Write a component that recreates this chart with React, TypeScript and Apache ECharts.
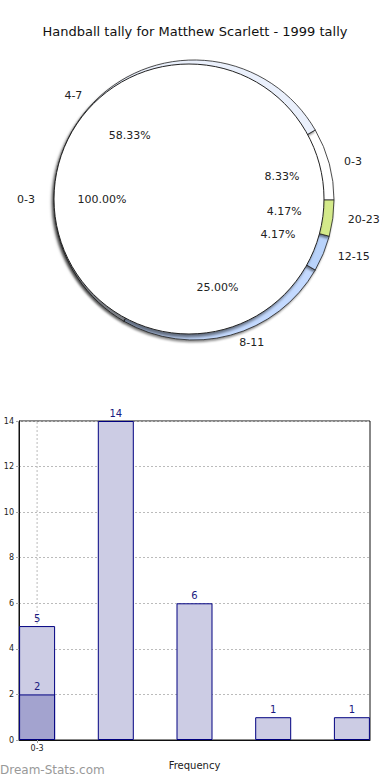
import React, { useEffect, useRef } from "react";
import * as echarts from "echarts";

const TITLE = "Handball tally for Matthew Scarlett - 1999 tally";
const pieInnerNames = ["0-3"];
const pieInnerValues = [24];
const pieOuterNames = ["0-3", "4-7", "8-11", "12-15", "20-23"];
const pieOuterValues = [2, 14, 6, 1, 1];
const pieOuterColors = ["#ffffff", "#eaf0fc", "#c4daff", "#b9d3fb", "#d4ea8a"];

const barPositions = [0, 1, 2, 3, 4];
const barTotals = [5, 14, 6, 1, 1];
const barSub = [2];
const xTickLabels = ["0-3"];
const yTicks = { min: 0, max: 14, interval: 2 };

const FONT = "DejaVu Sans";

export default function App() {
  const ref = useRef<HTMLDivElement>(null);
  useEffect(() => {
    const chart = echarts.init(ref.current!, null, { renderer: "svg" });
    const pctFmt = (p: any) => p.percent.toFixed(2) + "%";
    const innerCenter = [189, 199];
    const outerCenter = [194, 200];
    const gridLine = () => ({ color: "#bbb", type: [2, 2], width: 1 });
    const option: any = {
      animation: false,
      textStyle: { fontFamily: FONT },
      title: {
        text: TITLE,
        left: "center",
        top: 20,
        textStyle: { fontFamily: FONT, fontSize: 13, fontWeight: "normal", color: "#111" },
      },
      graphic: [
        {
          type: "text",
          left: 0,
          top: 764,
          style: { text: "Dream-Stats.com", fill: "#999", font: "12px DejaVu Sans" },
        },
      ],
      grid: {
        left: 19,
        right: 20,
        top: 421,
        bottom: 40,
        containLabel: false,
        outerBoundsMode: "none",
        show: true,
        borderColor: "#111",
        borderWidth: 1,
        backgroundColor: "transparent",
      },
      xAxis: {
        type: "value",
        min: -0.23,
        max: 4.23,
        name: "Frequency",
        nameLocation: "middle",
        nameGap: 20,
        nameTextStyle: { fontSize: 10, color: "#222", fontFamily: FONT },
        axisLine: { show: true, onZero: false, lineStyle: { color: "#111" } },
        axisTick: { show: true, customValues: [0], length: 3, lineStyle: { color: "#999" } },
        axisLabel: {
          customValues: [0],
          formatter: (v: number) => (Math.abs(v) < 1e-9 ? xTickLabels[0] : ""),
          fontSize: 8,
          color: "#222",
          margin: 4,
        },
        splitLine: { show: false },
      },
      yAxis: {
        type: "value",
        min: yTicks.min,
        max: yTicks.max,
        interval: yTicks.interval,
        name: "Handball Tally",
        nameLocation: "middle",
        nameGap: 21,
        nameTextStyle: { fontSize: 10, color: "#222", fontFamily: FONT },
        axisLine: { show: true, onZero: false, lineStyle: { color: "#111" } },
        axisTick: { show: true, length: 3, lineStyle: { color: "#aaa" } },
        axisLabel: { fontSize: 8, color: "#222", margin: 5 },
        splitLine: { show: true, lineStyle: gridLine() },
      },
      series: [
        {
          type: "pie",
          center: outerCenter,
          radius: [60, 140],
          startAngle: 0,
          clockwise: false,
          avoidLabelOverlap: false,
          silent: true,
          z: 1,
          data: pieOuterNames.map((n, i) => ({
            name: n,
            value: pieOuterValues[i],
            itemStyle: { color: pieOuterColors[i] },
          })),
          itemStyle: {
            borderColor: "#222",
            borderWidth: 0.8,
            shadowColor: "rgba(0,0,0,0.45)",
            shadowBlur: 2,
            shadowOffsetX: -1,
            shadowOffsetY: 2,
          },
          label: { show: true, position: "outside", formatter: "{b}", fontSize: 11, color: "#222" },
          labelLine: { show: false, length: 8, length2: 2 },
        },
        {
          type: "pie",
          center: innerCenter,
          radius: [0, 135],
          startAngle: 0,
          clockwise: false,
          avoidLabelOverlap: false,
          silent: true,
          z: 2,
          data: pieInnerNames.map((n, i) => ({ name: n, value: pieInnerValues[i] })),
          itemStyle: {
            color: "#ffffff",
            borderColor: "#222",
            borderWidth: 1,
            shadowColor: "rgba(0,0,0,0.5)",
            shadowBlur: 3,
            shadowOffsetX: -2,
            shadowOffsetY: 3,
          },
          label: { show: true, position: "outside", formatter: "{b}", fontSize: 11, color: "#222" },
          labelLine: { show: false, length: 12, length2: 2 },
        },
        {
          type: "pie",
          center: innerCenter,
          radius: [0, 168],
          startAngle: 0,
          clockwise: false,
          avoidLabelOverlap: false,
          silent: true,
          z: 5,
          data: pieInnerNames.map((n, i) => ({ name: n, value: pieInnerValues[i] })),
          itemStyle: { color: "rgba(0,0,0,0)", borderWidth: 0 },
          label: { show: true, position: "inside", formatter: pctFmt, fontSize: 11, color: "#222" },
        },
        {
          type: "pie",
          center: outerCenter,
          radius: [0, 176],
          startAngle: 0,
          clockwise: false,
          avoidLabelOverlap: false,
          silent: true,
          z: 5,
          data: pieOuterNames.map((n, i) => ({ name: n, value: pieOuterValues[i] })),
          itemStyle: { color: "rgba(0,0,0,0)", borderWidth: 0 },
          label: { show: true, position: "inside", formatter: pctFmt, fontSize: 11, color: "#222" },
        },
        {
          type: "line",
          silent: true,
          symbol: "none",
          z: 1,
          data: [[barPositions[0], yTicks.min], [barPositions[0], yTicks.max]],
          lineStyle: gridLine(),
          itemStyle: { color: "#bbb" },
        },
        {
          type: "bar",
          barWidth: 36,
          z: 2,
          data: barPositions.map((x, i) => [x, barTotals[i]]),
          itemStyle: { color: "#ccccE4", borderColor: "#000080", borderWidth: 1 },
          label: { show: true, position: "top", color: "#1a1a80", fontSize: 10, distance: 3,
            formatter: (p: any) => String(p.value[1]) },
        },
        {
          type: "bar",
          barWidth: 36,
          barGap: "-100%",
          z: 3,
          data: barSub.map((v, i) => [barPositions[i], v]),
          itemStyle: { color: "#a3a3cf", borderColor: "#000080", borderWidth: 1 },
          label: { show: true, position: "top", color: "#1a1a80", fontSize: 10, distance: 3,
            formatter: (p: any) => String(p.value[1]) },
        },
      ],
    };
    chart.setOption(option);
    return () => chart.dispose();
  }, []);
  return (
    <div
      ref={ref}
      style={{ position: "fixed", left: 0, top: 0, width: 390, height: 780, background: "#fff" }}
    />
  );
}
